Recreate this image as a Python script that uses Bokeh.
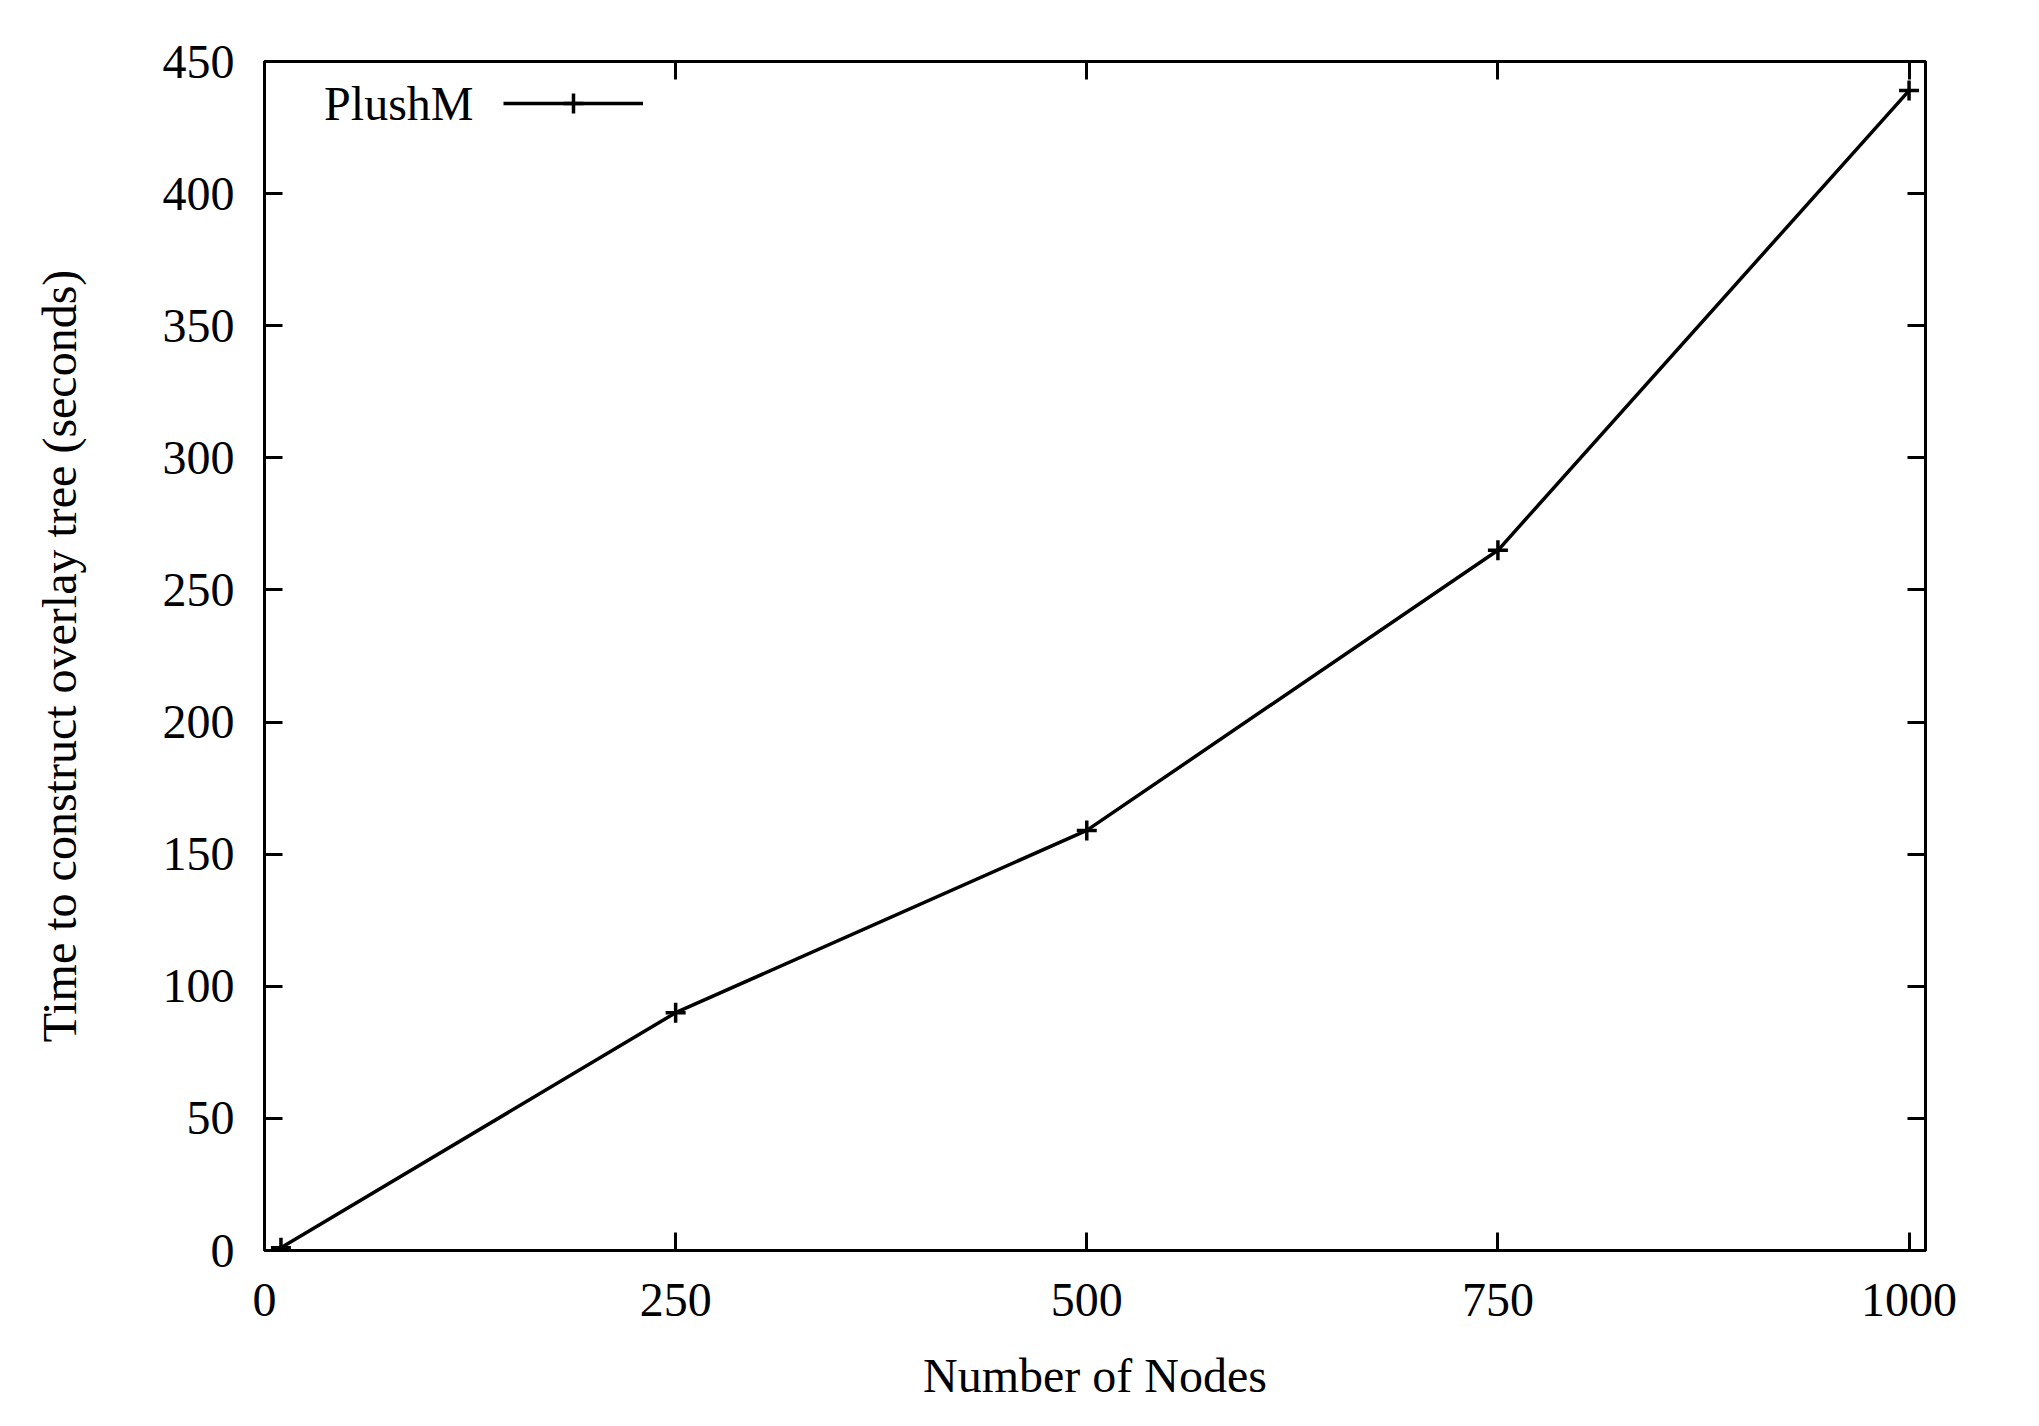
from bokeh.plotting import figure
from bokeh.models import (LinearAxis, FixedTicker, Range1d, Legend, LegendItem,
                          CustomJSTickFormatter, Label)
from bokeh.embed import file_html
from bokeh.resources import INLINE

# Data
nodes = [10, 250, 500, 750, 1000]
times = [1, 90, 159, 265, 439]
x_ticks = [0, 250, 500, 750, 1000]
y_ticks = [0, 50, 100, 150, 200, 250, 300, 350, 400, 450]
series_name = "PlushM"
x_label = "Number of Nodes"
y_label = "Time to construct overlay tree (seconds)"

FONT = "Liberation Serif"
FS = "48px"
FH = 1189

p = figure(output_backend="svg", toolbar_location=None,
           frame_width=1661, frame_height=FH,
           x_range=Range1d(0, 1010), y_range=Range1d(0, 450),
           min_border_left=264, min_border_top=61,
           min_border_right=80, min_border_bottom=150)
p.grid.visible = False
p.background_fill_color = "white"
p.border_fill_color = "white"
p.outline_line_color = "black"
p.outline_line_width = 3

def style_axis(ax, ticks, labels=True):
    ax.ticker = FixedTicker(ticks=ticks)
    ax.major_tick_in = 18
    ax.major_tick_out = 0
    ax.minor_tick_line_color = None
    ax.major_tick_line_width = 3
    ax.major_tick_line_color = "black"
    ax.axis_line_width = 3
    ax.axis_line_color = "black"
    ax.major_label_text_font = FONT
    ax.major_label_text_font_size = FS
    ax.major_label_text_color = "black"
    ax.axis_label_text_font = FONT
    ax.axis_label_text_font_size = FS
    ax.axis_label_text_font_style = "normal"
    ax.axis_label_text_color = "black"
    if not labels:
        ax.formatter = CustomJSTickFormatter(code="return ''")

style_axis(p.xaxis[0], x_ticks)
style_axis(p.yaxis[0], y_ticks)
p.xaxis[0].axis_label = x_label
p.yaxis[0].axis_label = y_label
p.xaxis[0].major_label_standoff = 33
p.xaxis[0].axis_label_standoff = 30
p.yaxis[0].major_label_standoff = 30
p.yaxis[0].axis_label_standoff = 74

top = LinearAxis()
style_axis(top, x_ticks, labels=False)
p.add_layout(top, "above")
right = LinearAxis()
style_axis(right, y_ticks, labels=False)
p.add_layout(right, "right")

ln = p.line(nodes, times, line_color="black", line_width=3.5)
sc = p.scatter(nodes, times, marker="cross", size=20, line_color="black",
               line_width=3.5)

legend = Legend(items=[LegendItem(label=" ", renderers=[ln, sc])],
                border_line_color=None,
                background_fill_alpha=0, glyph_width=140, glyph_height=50,
                label_text_font_size="1px", padding=0, margin=0,
                label_standoff=0, spacing=0)
legend.location = (239, FH - 42 - 25)
p.add_layout(legend, "center")

lab = Label(x=209, y=FH - 42, x_units="screen", y_units="screen",
            text=series_name, text_font=FONT, text_font_size=FS,
            text_align="right", text_baseline="middle", text_color="black")
p.add_layout(lab)

open("out.html", "w").write(file_html(p, INLINE))
